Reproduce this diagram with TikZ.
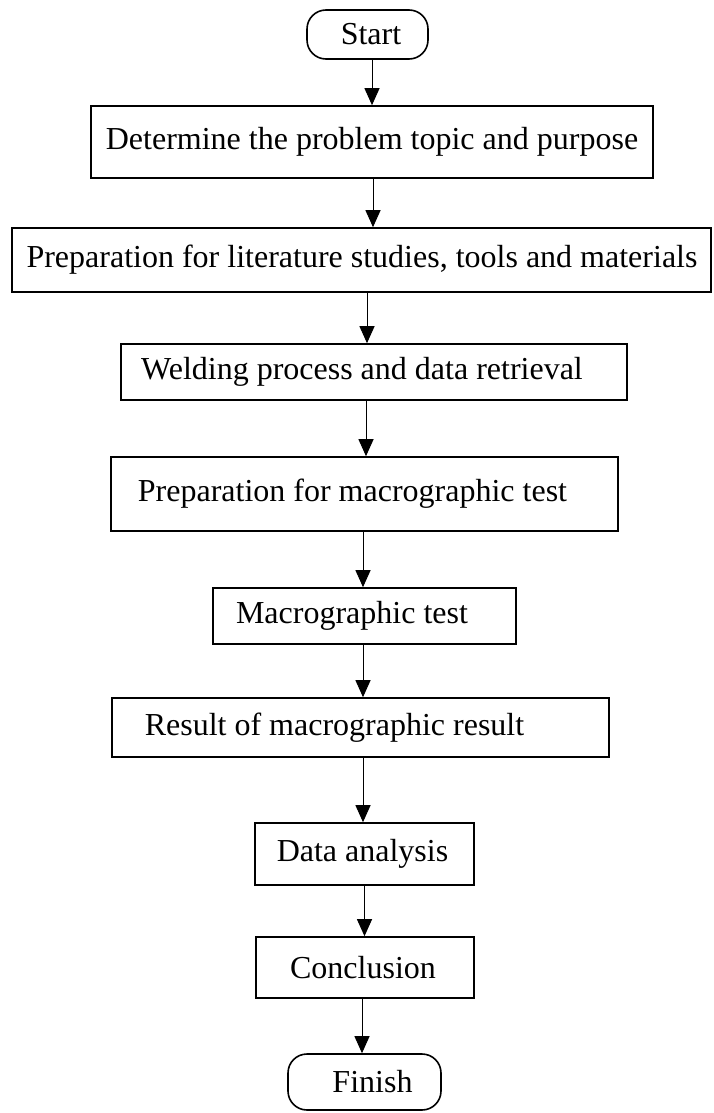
\documentclass[tikz,border=0pt]{standalone}
\usepackage{fontspec}
\setmainfont{Liberation Serif}
\usepackage{tikz}
\usetikzlibrary{arrows.meta,positioning,calc}
\tikzset{
  stepbox/.style={draw=black,line width=1.6pt,inner sep=0pt,font=\fontsize{32}{38}\selectfont},
  endbox/.style={stepbox,rounded corners=19pt},
  flow/.style={-{Triangle[length=17pt,width=15pt]},line width=1pt},
}
\begin{document}
\begin{tikzpicture}[x=1pt,y=-1pt]
  \useasboundingbox (0,0) rectangle (714,1113);
  \node[endbox,minimum width=121pt,minimum height=49pt] (start) at (367.5,34.5) {\hspace*{7pt}Start};
  \foreach \nm/\cx/\cy/\w/\h/\dx/\lab in {
      det/372/142/562/72/0/{Determine the problem topic and purpose},
      lit/361.5/260/699/64/1/{Preparation for literature studies, tools and materials},
      weld/374/372/506/56/-24/{Welding process and data retrieval},
      macprep/364.5/494/507/74/-24/{Preparation for macrographic test},
      mactest/364.5/616/303/56/-25/{Macrographic test},
      result/360.5/727.5/497/59/-52/{Result of macrographic result},
      data/364.5/854/219/62/-4/{Data analysis},
      concl/365/967.5/218/61/-4/{Conclusion}}{
    \node[stepbox,minimum width=\w pt,minimum height=\h pt] (\nm) at (\cx,\cy) {\hspace*{\dx pt}\lab};}
  \node[endbox,minimum width=153pt,minimum height=56pt] (finish) at (364.5,1082) {\hspace*{16pt}Finish};
  % connectors, straight down from each box
  \foreach \a/\b/\s in {start/det/4.5,det/lit/1,lit/weld/5.5,weld/macprep/-8,macprep/mactest/-1.5,
                        mactest/result/-1.5,result/data/2.5,data/concl/0,concl/finish/-3}
    \draw[flow] ([xshift=\s pt]\a.south) -- ([xshift=\s pt]\a.south |- \b.north);
\end{tikzpicture}
\end{document}
